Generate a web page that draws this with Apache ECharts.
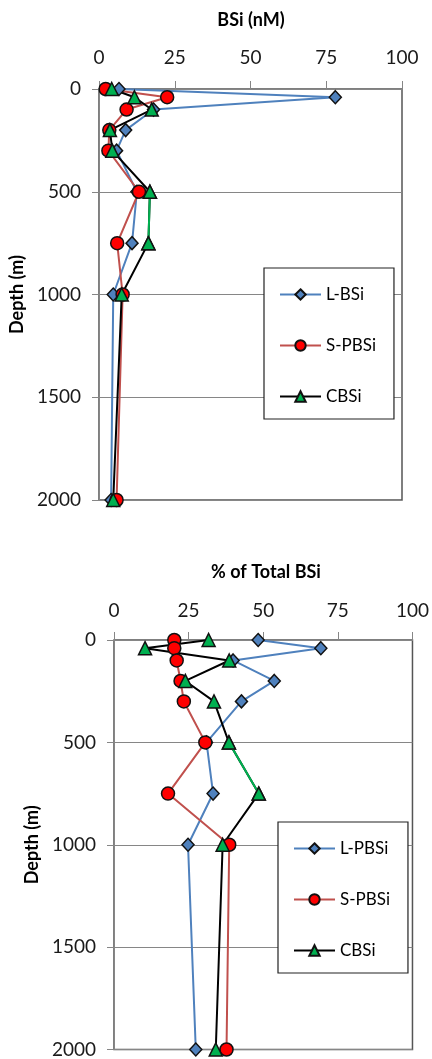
<!DOCTYPE html>
<html>
<head>
<meta charset="utf-8">
<script src="https://cdn.jsdelivr.net/npm/echarts@6/dist/echarts.min.js"></script>
<style>
  html, body { margin: 0; padding: 0; background: #fff; }
  #chart { width: 432px; height: 1059px; }
</style>
</head>
<body>
<div id="chart"></div>
<script>
// depth of each sample (m)
const depths = [0, 40, 100, 200, 300, 500, 750, 1000, 2000]

// top panel: BSi (nM)
const lBSi = [6.6, 78, 18, 8.8, 5.8, 12.5, 10.9, 4.7, 4.0]
const sPBSi = [2.2, 22.5, 9.1, 3.4, 3.1, 13.2, 6.0, 7.8, 5.8]
const cBSi = [4.2, 11.7, 17.4, 3.6, 4.4, 16.8, 16.3, 7.5, 4.7]

// bottom panel: % of total BSi
const lPBSiPct = [48.3, 69.3, 39.9, 53.7, 42.7, 31.0, 33.2, 24.8, 27.4]
const sPBSiPct = [20.2, 20.2, 21.0, 22.3, 23.4, 30.6, 18.1, 38.6, 37.7]
const cBSiPct = [31.7, 10.4, 38.6, 23.9, 33.5, 38.5, 48.5, 36.4, 34.1]

const xTicks = [0, 25, 50, 75, 100]
const depthTicks = [0, 500, 1000, 1500, 2000]

// the CBSi connector between these two depths is drawn green
const greenFrom = 5
const greenTo = 6

const font = 'Lato, "Open Sans", sans-serif'
const axisGray = '#868686'

let pair = vals => vals.map((v, i) => [v, depths[i]])

let styles = {
  L: { symbol: 'diamond', size: [12, 13], fill: '#4F81BD', line: '#4F81BD' },
  S: { symbol: 'circle', size: 13, fill: '#FF0000', line: '#C0504D' },
  C: { symbol: 'triangle', size: 13, fill: '#00B050', line: '#000000' }
}

let lineSeries = (grid, name, vals, kind) => {
  let s = styles[kind]
  return {
    name: name,
    type: 'line',
    xAxisIndex: grid,
    yAxisIndex: grid,
    data: pair(vals),
    symbol: s.symbol,
    symbolSize: s.size,
    lineStyle: { color: s.line, width: 2 },
    itemStyle: { color: s.fill, borderColor: '#111', borderWidth: 1.5 },
    emphasis: { disabled: true }
  }
}

// green piece of the CBSi line, then its two triangles again on top of it
let greenSegment = (grid, vals) => [
  {
    name: 'CBSi segment',
    type: 'line',
    xAxisIndex: grid,
    yAxisIndex: grid,
    data: pair(vals).slice(greenFrom, greenTo + 1),
    symbol: 'none',
    lineStyle: { color: '#00B050', width: 2 },
    emphasis: { disabled: true }
  },
  {
    name: 'CBSi marks',
    type: 'scatter',
    xAxisIndex: grid,
    yAxisIndex: grid,
    data: pair(vals).slice(greenFrom, greenTo + 1),
    symbol: styles.C.symbol,
    symbolSize: styles.C.size,
    itemStyle: { color: styles.C.fill, borderColor: '#111', borderWidth: 1.5, opacity: 1 },
    emphasis: { disabled: true }
  }
]

let xAxis = grid => ({
  type: 'value',
  gridIndex: grid,
  position: 'top',
  min: xTicks[0],
  max: xTicks[xTicks.length - 1],
  interval: 25,
  axisLine: { show: true, lineStyle: { color: axisGray, width: 1 } },
  axisTick: { show: true, inside: false, length: 8, lineStyle: { color: axisGray } },
  axisLabel: { margin: grid === 0 ? 22 : 20, fontFamily: font, fontSize: 19, color: '#1a1a1a' },
  splitLine: { show: false }
})

let yAxis = grid => ({
  type: 'value',
  gridIndex: grid,
  inverse: true,
  min: depthTicks[0],
  max: depthTicks[depthTicks.length - 1],
  interval: 500,
  name: 'Depth (m)',
  nameLocation: 'middle',
  nameGap: 62,
  nameTextStyle: { fontFamily: font, fontSize: 18, fontWeight: 'bold', color: '#000' },
  axisLine: { show: true, lineStyle: { color: axisGray, width: 1 } },
  axisTick: { show: true, inside: false, length: 7, lineStyle: { color: axisGray } },
  axisLabel: { margin: 18, fontFamily: font, fontSize: 19, color: '#1a1a1a', formatter: v => String(v) },
  splitLine: { show: true, lineStyle: { color: axisGray, width: 1 } }
})

let legend = (left, top, names) => ({
  orient: 'vertical',
  left: left,
  top: top,
  data: names,
  itemWidth: 41,
  itemHeight: 13,
  itemGap: 34,
  padding: [18, 18, 14, 15],
  borderColor: '#222',
  borderWidth: 1.2,
  backgroundColor: '#fff',
  selectedMode: false,
  textStyle: { fontFamily: font, fontSize: 17, color: '#000' }
})

let option = {
  animation: false,
  title: [
    {
      text: 'BSi (nM)',
      left: 251,
      top: 11,
      padding: 0,
      textAlign: 'center',
      textStyle: { fontFamily: font, fontSize: 18, fontWeight: 'bold', color: '#000' }
    },
    {
      text: '% of Total BSi',
      left: 266,
      top: 563,
      padding: 0,
      textAlign: 'center',
      textStyle: { fontFamily: font, fontSize: 18, fontWeight: 'bold', color: '#000' }
    }
  ],
  grid: [
    { left: 99, top: 89, width: 303, height: 411, show: true, borderColor: '#555', borderWidth: 1.5, backgroundColor: 'transparent' },
    { left: 114, top: 640, width: 303, height: 412, show: true, borderColor: '#555', borderWidth: 1.5, backgroundColor: 'transparent' }
  ],
  xAxis: [xAxis(0), xAxis(1)],
  yAxis: [yAxis(0), yAxis(1)],
  legend: [
    legend(264, 268, ['L-BSi', 'S-PBSi', 'CBSi']),
    legend(278, 822, ['L-PBSi', 'S-PBSi', 'CBSi'])
  ],
  series: [
    lineSeries(0, 'L-BSi', lBSi, 'L'),
    lineSeries(0, 'S-PBSi', sPBSi, 'S'),
    lineSeries(0, 'CBSi', cBSi, 'C'),
    ...greenSegment(0, cBSi),
    lineSeries(1, 'L-PBSi', lPBSiPct, 'L'),
    lineSeries(1, 'S-PBSi', sPBSiPct, 'S'),
    lineSeries(1, 'CBSi', cBSiPct, 'C'),
    ...greenSegment(1, cBSiPct)
  ]
}

let myChart = echarts.init(document.getElementById('chart'))
myChart.setOption(option)
</script>
</body>
</html>
